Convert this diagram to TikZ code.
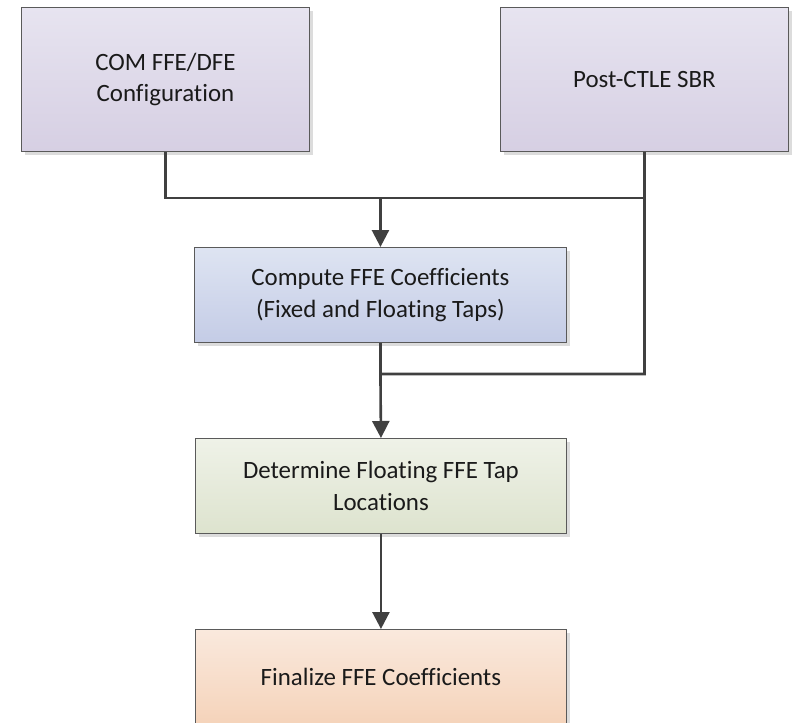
\documentclass[tikz,border=0pt]{standalone}
\usepackage{fontspec}
\setmainfont{Carlito}[Ligatures={NoCommon,NoContextual}]
\usetikzlibrary{arrows.meta,shadows}
\definecolor{edge}{HTML}{5A5A5A}
\definecolor{conncol}{HTML}{404040}
\definecolor{txt}{HTML}{1A1A1A}
\definecolor{purT}{HTML}{E7E4F0}
\definecolor{purB}{HTML}{D6CFE3}
\definecolor{bluT}{HTML}{DEE4F2}
\definecolor{bluB}{HTML}{C4CCE6}
\definecolor{grnT}{HTML}{EFF2E8}
\definecolor{grnB}{HTML}{DDE3CE}
\definecolor{orgT}{HTML}{FAE9DD}
\definecolor{orgB}{HTML}{F5D3BA}
\definecolor{shd}{HTML}{DCDCDC}
\tikzset{
  box/.style={draw=edge, line width=0.9bp, inner sep=0pt, anchor=north west,
    align=center, text=txt, font=\fontsize{25}{31.5}\selectfont,
    drop shadow={shadow xshift=4bp, shadow yshift=-4bp, fill=shd, opacity=1}},
  purbox/.style={box, top color=purT, bottom color=purB, minimum width=288bp, minimum height=144bp},
  blubox/.style={box, top color=bluT, bottom color=bluB, minimum width=372bp, minimum height=95bp},
  grnbox/.style={box, top color=grnT, bottom color=grnB, minimum width=371bp, minimum height=95bp},
  orgbox/.style={box, top color=orgT, bottom color=orgB, minimum width=371bp, minimum height=95bp},
  conn/.style={draw=conncol, line width=2.6bp},
  arr/.style={conn, -{Triangle[length=17bp,width=17bp]}}
}
\begin{document}
\begin{tikzpicture}[x=1bp,y=-1bp]
\useasboundingbox (0,0) rectangle (797,723);
\clip (0,0) rectangle (797,723);
\node[purbox] (cfg) at (21,7) {COM FFE/DFE\\Configuration};
\node[purbox] (sbr) at (500,7) {Post-CTLE SBR};
\node[blubox] (ffe) at (194,247) {Compute FFE Coefficients\\(Fixed and Floating Taps)};
\node[grnbox] (loc) at (195,438) {Determine Floating FFE Tap\\Locations};
\node[orgbox] (fin) at (195,629) {Finalize FFE Coefficients};
\coordinate (j1) at (ffe.north |- 0,198);
\coordinate (j2) at (ffe.south |- 0,374);
\draw[arr] (cfg.south) |- (j1) -- (ffe.north);
\draw[arr] (sbr.south) |- (j2) -- (loc.north);
\draw[conn] (sbr.south |- j1) -- (j1);
\draw[conn] (ffe.south) -- (j2);
\draw[arr] (loc.south) -- (fin.north);
\end{tikzpicture}
\end{document}
